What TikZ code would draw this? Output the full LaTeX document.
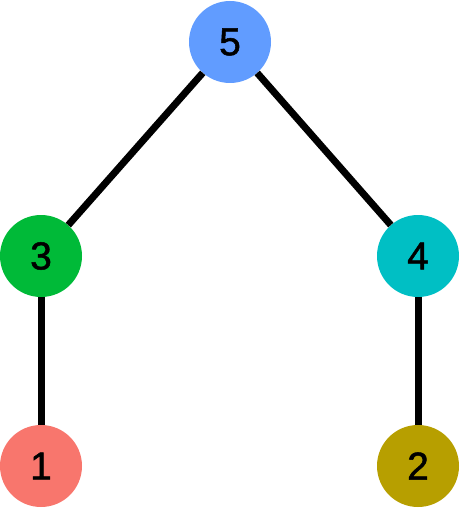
\documentclass[tikz,border=0pt]{standalone}
\usepackage{fontspec}
\setmainfont{Liberation Sans}
\newfontfamily\numfont[FakeBold=1.3]{Liberation Sans}
\definecolor{c1}{HTML}{F8766D}
\definecolor{c2}{HTML}{B79F00}
\definecolor{c3}{HTML}{00BA38}
\definecolor{c4}{HTML}{00BFC4}
\definecolor{c5}{HTML}{619CFF}
\begin{document}
\begin{tikzpicture}[x=1pt,y=-1pt,
  vert/.style={circle,minimum size=82pt,inner sep=0pt,font=\numfont\fontsize{39}{39}\selectfont},
  edge/.style={line width=7pt,black}]
\useasboundingbox (0,0) rectangle (460,508);
\node[vert,fill=c5] (n5) at (230,42) {5};
\node[vert,fill=c3] (n3) at (41,256) {3};
\node[vert,fill=c4] (n4) at (418,256) {4};
\node[vert,fill=c1] (n1) at (41,466) {1};
\node[vert,fill=c2] (n2) at (418,466) {2};
\draw[edge] (n5) -- (n3);
\draw[edge] (n5) -- (n4);
\draw[edge] (n3) -- (n1);
\draw[edge] (n4) -- (n2);
\end{tikzpicture}
\end{document}
